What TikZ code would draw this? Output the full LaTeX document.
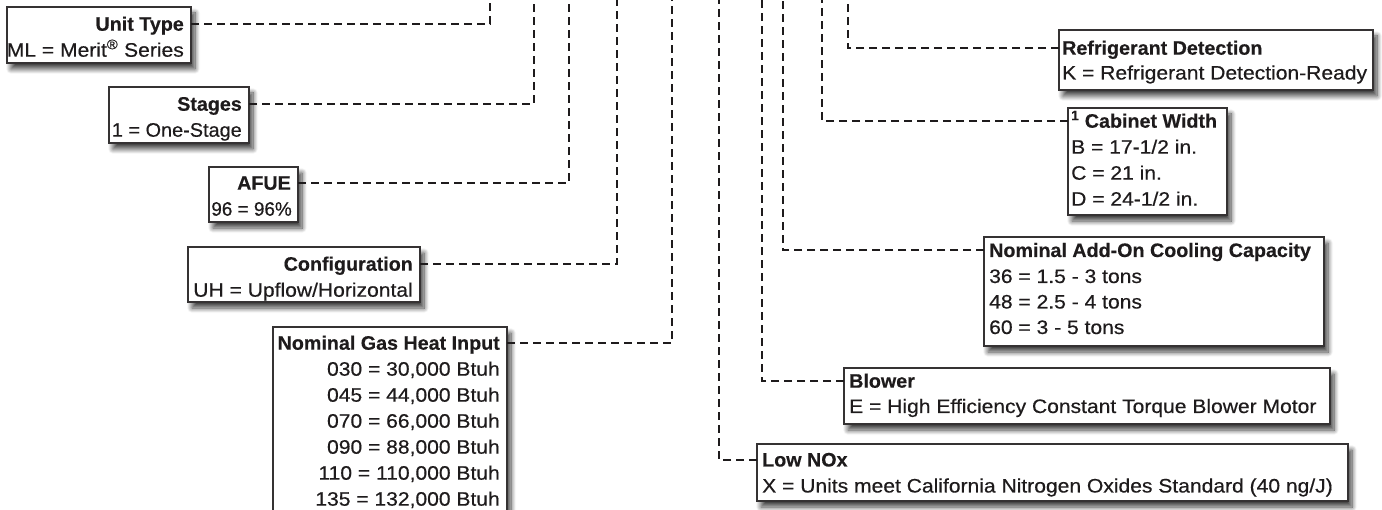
\documentclass[tikz,border=0pt]{standalone}
\usepackage{fontspec}
\setmainfont{Liberation Sans}[FakeStretch=1.08, FakeBold=0.45, BoldFeatures={FakeStretch=1.01, FakeBold=0.35}]
\newfontfamily\tightfont{Liberation Sans}[FakeStretch=1.02, FakeBold=0.45]
\newfontfamily\tighterfont{Liberation Sans}[FakeStretch=0.97, FakeBold=0.45]
\usetikzlibrary{shadows.blur}
\definecolor{ink}{HTML}{1E1B1C}
\begin{document}
\begin{tikzpicture}[x=1pt, y=-1pt,
  keybox/.style={draw=ink!90, line width=1.4pt, fill=white, inner sep=0pt, outer sep=0pt, anchor=north west,
    blur shadow={shadow xshift=4pt, shadow yshift=-6pt, shadow blur radius=5pt, shadow blur steps=10, shadow opacity=75}},
  conn/.style={draw=ink, line width=2.4pt, dash pattern=on 8pt off 5pt},
  ttl/.style={font=\fontsize{19.5}{26}\selectfont\bfseries, text=ink, inner sep=0pt},
  val/.style={font=\fontsize{19.5}{26}\selectfont, text=ink, inner sep=0pt},
]
\useasboundingbox (0,0) rectangle (1382,510);
\clip (0,0) rectangle (1382,510);

% ---------- left boxes ----------
\node[keybox, minimum width=184pt, minimum height=56pt] (unit) at (7,7) {};
\node[ttl, anchor=base east] (unitT) at ([xshift=-7pt]unit.east |- 0,30.7) {Unit Type};
\node[val, anchor=base east] (unit1) at ([xshift=-7pt]unit.east |- 0,56.7) {ML = Merit\textsuperscript{®} Series};

\node[keybox, minimum width=140pt, minimum height=56pt] (stg) at (109,87) {};
\node[ttl, anchor=base east] (stgT) at ([xshift=-7pt]stg.east |- 0,110.7) {Stages};
\node[val, anchor=base east] (stg1) at ([xshift=-7pt]stg.east |- 0,136.7) {\tightfont 1 = One-Stage};

\node[keybox, minimum width=89pt, minimum height=55pt] (afue) at (209,167) {};
\node[ttl, anchor=base east] (afueT) at ([xshift=-7pt]afue.east |- 0,189.7) {AFUE};
\node[val, anchor=base east] (afue1) at ([xshift=-6pt]afue.east |- 0,215.7) {\tighterfont 96 = 96\%};

\node[keybox, minimum width=232pt, minimum height=55pt] (cfg) at (188,247) {};
\node[ttl, anchor=base east] (cfgT) at ([xshift=-7pt]cfg.east |- 0,270.7) {Configuration};
\node[val, anchor=base east] (cfg1) at ([xshift=-7pt]cfg.east |- 0,296.7) {UH = Upflow/Horizontal};

\node[keybox, minimum width=234pt, minimum height=220pt] (gas) at (273,327) {};
\node[ttl, anchor=base east] (gasT) at ([xshift=-7pt]gas.east |- 0,349.7) {Nominal Gas Heat Input};
\node[val, anchor=base east] (gas1) at ([xshift=-7pt]gas.east |- 0,375.7) {030 = 30,000 Btuh};
\node[val, anchor=base east] (gas2) at ([xshift=-7pt]gas.east |- 0,401.7) {045 = 44,000 Btuh};
\node[val, anchor=base east] (gas3) at ([xshift=-7pt]gas.east |- 0,427.7) {070 = 66,000 Btuh};
\node[val, anchor=base east] (gas4) at ([xshift=-7pt]gas.east |- 0,453.7) {090 = 88,000 Btuh};
\node[val, anchor=base east] (gas5) at ([xshift=-7pt]gas.east |- 0,479.7) {110 = 110,000 Btuh};
\node[val, anchor=base east] (gas6) at ([xshift=-7pt]gas.east |- 0,505.7) {135 = 132,000 Btuh};

% ---------- right boxes ----------
\node[keybox, minimum width=314pt, minimum height=60pt] (ref) at (1059,30) {};
\node[ttl, anchor=base west] (refT) at ([xshift=3pt]ref.west |- 0,54.7) {Refrigerant Detection};
\node[val, anchor=base west] (ref1) at ([xshift=3pt]ref.west |- 0,79.5) {K = Refrigerant Detection-Ready};

\node[keybox, minimum width=159pt, minimum height=107pt] (cab) at (1068,108) {};
\node[ttl, anchor=base west] (cabT) at ([xshift=3pt]cab.west |- 0,127.7) {\textsuperscript{1} Cabinet Width};
\node[val, anchor=base west] (cab1) at ([xshift=3pt]cab.west |- 0,153.7) {B = 17-1/2 in.};
\node[val, anchor=base west] (cab2) at ([xshift=3pt]cab.west |- 0,179.7) {C = 21 in.};
\node[val, anchor=base west] (cab3) at ([xshift=3pt]cab.west |- 0,205.7) {D = 24-1/2 in.};

\node[keybox, minimum width=340pt, minimum height=109pt] (cool) at (984,237) {};
\node[ttl, anchor=base west] (coolT) at ([xshift=5pt]cool.west |- 0,257) {Nominal Add-On Cooling Capacity};
\node[val, anchor=base west] (cool1) at ([xshift=5pt]cool.west |- 0,283) {36 = 1.5 - 3 tons};
\node[val, anchor=base west] (cool2) at ([xshift=5pt]cool.west |- 0,308.5) {48 = 2.5 - 4 tons};
\node[val, anchor=base west] (cool3) at ([xshift=5pt]cool.west |- 0,334) {60 = 3 - 5 tons};

\node[keybox, minimum width=486pt, minimum height=56pt] (blw) at (844,368) {};
\node[ttl, anchor=base west] (blwT) at ([xshift=5pt]blw.west |- 0,387.7) {Blower};
\node[val, anchor=base west] (blw1) at ([xshift=5pt]blw.west |- 0,413) {E = High Efficiency Constant Torque Blower Motor};

\node[keybox, minimum width=591pt, minimum height=57pt] (nox) at (757,444) {};
\node[ttl, anchor=base west] (noxT) at ([xshift=5pt]nox.west |- 0,466.5) {Low NOx};
\node[val, anchor=base west] (nox1) at ([xshift=5pt]nox.west |- 0,492.5) {X = Units meet California Nitrogen Oxides Standard (40 ng/J)};

% ---------- connector corners and top ends ----------
\coordinate (cU) at (490,24);   \coordinate (tU) at (490,-5);
\coordinate (cS) at (534,104);  \coordinate (tS) at (534,-5);
\coordinate (cA) at (569,183);  \coordinate (tA) at (569,-5);
\coordinate (cC) at (617,264);  \coordinate (tC) at (617,-5);
\coordinate (cG) at (672,343);  \coordinate (tG) at (672,-5);
\coordinate (cN) at (719,460);  \coordinate (tN) at (719,-5);
\coordinate (cB) at (762,381);  \coordinate (tB) at (762,-5);
\coordinate (cK) at (783,250);  \coordinate (tK) at (783,-5);
\coordinate (cW) at (822,121);  \coordinate (tW) at (822,-5);
\coordinate (cR) at (848,48);   \coordinate (tR) at (848,-5);

\draw[conn] (unit.east |- cU) -- (cU) -- (tU);
\draw[conn] (stg.east |- cS) -- (cS) -- (tS);
\draw[conn] (afue.east |- cA) -- (cA) -- (tA);
\draw[conn] (cfg.east |- cC) -- (cC) -- (tC);
\draw[conn] (gas.east |- cG) -- (cG) -- (tG);
\draw[conn] (nox.west |- cN) -- (cN) -- (tN);
\draw[conn] (blw.west |- cB) -- (cB) -- (tB);
\draw[conn] (cool.west |- cK) -- (cK) -- (tK);
\draw[conn] (cab.west |- cW) -- (cW) -- (tW);
\draw[conn] (ref.west |- cR) -- (cR) -- (tR);
\end{tikzpicture}
\end{document}
